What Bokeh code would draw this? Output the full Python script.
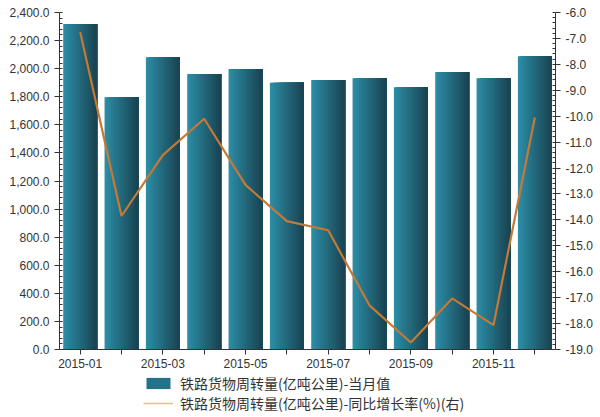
from bokeh.plotting import figure
from bokeh.models import (Range1d, LinearAxis, FixedTicker, NumeralTickFormatter,
                          Legend, LegendItem)
from bokeh.layouts import column
from bokeh.embed import file_html
from bokeh.resources import INLINE
import numpy as np

months = ["2015-01", "2015-02", "2015-03", "2015-04", "2015-05", "2015-06",
          "2015-07", "2015-08", "2015-09", "2015-10", "2015-11", "2015-12"]
tick_labels = ["2015-01", "", "2015-03", "", "2015-05", "", "2015-07", "",
               "2015-09", "", "2015-11", ""]
volume = [2318, 1797, 2082, 1962, 1998, 1900, 1920, 1932, 1867, 1977, 1932, 2088]
growth = [-6.75, -13.85, -11.5, -10.1, -12.65, -14.05, -14.4, -17.3, -18.73,
          -17.03, -18.06, -10.05]
series_names = ["铁路货物周转量(亿吨公里)-当月值",
                "铁路货物周转量(亿吨公里)-同比增长率(%)(右)"]

xs = np.arange(len(months))

p = figure(width=600, height=370, output_backend="svg", toolbar_location=None,
           x_range=Range1d(-0.5, 11.5), y_range=Range1d(0, 2400),
           min_border_left=59, min_border_right=45, min_border_top=12,
           min_border_bottom=19)
p.extra_y_ranges = {"pct": Range1d(-19, -6)}
p.outline_line_color = None
p.xgrid.visible = False
p.ygrid.visible = False
p.background_fill_color = "white"

# gradient bars: slices anchored at the left, each extends to the bar's right edge
bar_w = 0.82
n_sl = 20
c0 = np.array([0x2c, 0x8d, 0xa6])
c1 = np.array([0x1a, 0x44, 0x52])
for k in range(n_sl):
    t = k / (n_sl - 1)
    col = (c0 * (1 - t) + c1 * t).astype(int)
    hexcol = "#%02x%02x%02x" % tuple(col)
    left = xs - bar_w / 2 + k * bar_w / n_sl
    p.quad(left=left, right=xs + bar_w / 2, top=volume, bottom=0,
           fill_color=hexcol, line_color=None)

p.line(x=xs, y=growth, y_range_name="pct", line_color="#c47a36", line_width=2.2)

font = "Liberation Sans"
for ax in [p.xaxis[0], p.yaxis[0]]:
    ax.axis_line_color = "#333333"
    ax.major_tick_line_color = "#333333"
    ax.minor_tick_line_color = "#333333"
    ax.major_label_text_font = font
    ax.major_label_text_font_size = "12px"
    ax.major_label_text_color = "#333333"

p.xaxis.ticker = FixedTicker(ticks=list(xs))
p.xaxis.major_label_overrides = {int(i): tick_labels[i] for i in range(len(xs))}
p.xaxis.major_tick_in = 0
p.xaxis.major_tick_out = 5
p.xaxis.major_label_standoff = 4
p.xaxis.minor_tick_line_color = None

p.yaxis[0].ticker = FixedTicker(ticks=list(range(0, 2401, 200)),
                                minor_ticks=list(range(0, 2401, 40)))
p.yaxis[0].formatter = NumeralTickFormatter(format="0,0.0")
p.yaxis[0].major_tick_in = 0
p.yaxis[0].major_tick_out = 5
p.yaxis[0].minor_tick_in = 3
p.yaxis[0].minor_tick_out = 0

ax2 = LinearAxis(y_range_name="pct")
ax2.ticker = FixedTicker(ticks=list(range(-19, -5)),
                         minor_ticks=[float(v) for v in np.round(np.arange(-19, -5.99, 0.2), 2)])
ax2.formatter = NumeralTickFormatter(format="0.0")
ax2.axis_line_color = "#333333"
ax2.major_tick_line_color = "#333333"
ax2.minor_tick_line_color = "#333333"
ax2.major_label_text_font = font
ax2.major_label_text_font_size = "12px"
ax2.major_label_text_color = "#333333"
ax2.major_tick_in = 0
ax2.major_tick_out = 5
ax2.minor_tick_in = 3
ax2.minor_tick_out = 0
p.add_layout(ax2, "right")

# legend in a small figure below (frame aligned with the main one)
lf = figure(width=600, height=47, output_backend="svg", toolbar_location=None,
            x_range=Range1d(0, 1), y_range=Range1d(0, 1),
            min_border_left=59, min_border_right=45,
            min_border_top=0, min_border_bottom=0)
lf.axis.visible = False
lf.xgrid.visible = False
lf.ygrid.visible = False
lf.outline_line_color = None
leg_bar = lf.vbar(x=[0], top=[0], width=0.5, fill_color="#24728a", line_color=None,
                  visible=False)
leg_line = lf.line(x=[0, 0], y=[0, 0], line_color="#e3c08c", line_width=1.5,
                   visible=False)
legend = Legend(items=[
    LegendItem(label=series_names[0], renderers=[leg_bar]),
    LegendItem(label=series_names[1], renderers=[leg_line]),
], location=(84, 4), orientation="vertical")
legend.label_text_font = "Noto Sans CJK SC"
legend.label_text_font_size = "14px"
legend.label_text_color = "#333333"
legend.label_height = 16
legend.glyph_height = 14
legend.glyph_width = 30
legend.label_standoff = 7
legend.spacing = -3
legend.padding = 0
legend.margin = 0
legend.border_line_color = None
legend.background_fill_alpha = 0
lf.add_layout(legend, "center")

open("out.html", "w").write(file_html(column(p, lf, spacing=0), INLINE))
